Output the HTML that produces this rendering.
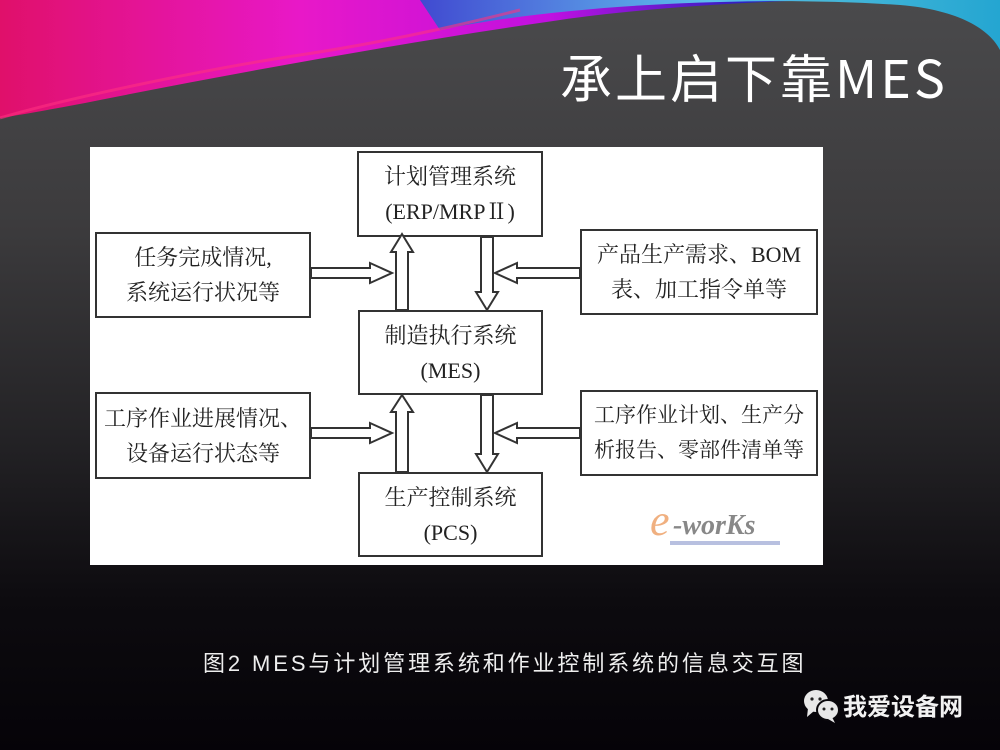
<!DOCTYPE html>
<html><head><meta charset="utf-8"><style>
html,body{margin:0;padding:0;}
body{width:1000px;height:750px;overflow:hidden;position:relative;font-family:"Liberation Sans","Noto Sans CJK SC",sans-serif;
background:linear-gradient(180deg,#4a4a4c 0%,#3c3b3d 30%,#222124 60%,#0d0b0f 80%,#050308 100%);}
.abs{position:absolute;}
.title{left:560px;top:44px;font-size:52px;color:#fff;font-family:"Noto Sans CJK SC",sans-serif;letter-spacing:3px;line-height:64px;white-space:nowrap;}
.panel{left:90px;top:147px;width:733px;height:418px;background:#fff;}
.box{position:absolute;border:2px solid #333;background:#fff;color:#222;font-family:"Liberation Serif","Noto Serif CJK SC",serif;font-size:22px;line-height:35px;text-align:center;display:flex;align-items:center;justify-content:center;box-sizing:border-box;white-space:nowrap;}
.cap{left:203px;top:646px;color:#eee;font-size:22px;letter-spacing:2.9px;white-space:nowrap;}
.wx{left:843px;top:687px;color:#f2f2f2;font-size:24px;font-weight:bold;white-space:nowrap;font-family:"Noto Sans CJK SC",sans-serif;}
</style></head><body>
<svg class="abs" style="left:0;top:0" width="1000" height="130">
<defs>
<linearGradient id="g1" x1="0" y1="0" x2="1" y2="0">
<stop offset="0" stop-color="#e0106a"/><stop offset="0.3" stop-color="#e818c8"/><stop offset="0.55" stop-color="#c010e0"/><stop offset="0.75" stop-color="#2a20c0"/><stop offset="1" stop-color="#101080"/></linearGradient>
<linearGradient id="g2" x1="0" y1="0" x2="1" y2="0">
<stop offset="0" stop-color="#3050d0"/><stop offset="0.5" stop-color="#60d0f0"/><stop offset="1" stop-color="#20b0e0"/></linearGradient>
</defs>
<path d="M0,0 H1000 V0 C900,-5 700,0 560,20 C420,40 250,70 100,100 C60,108 20,115 0,118 Z" fill="url(#g1)"/>
<path d="M440,30 C560,5 750,-5 900,5 C960,10 990,30 1000,50 V0 H420 Z" fill="url(#g2)" opacity="0.9"/>
<path d="M0,118 C60,100 200,70 300,55 C400,40 480,20 520,10" stroke="#ff3080" stroke-width="3" fill="none" opacity="0.6"/>
</svg>
<div class="abs title">承上启下靠MES</div>
<div class="abs panel">
<div class="box" style="left:267px;top:4px;width:186px;height:86px;">计划管理系统<br>(ERP/MRPⅡ)</div>
<div class="box" style="left:5px;top:85px;width:216px;height:86px;">任务完成情况,<br>系统运行状况等</div>
<div class="box" style="left:490px;top:82px;width:238px;height:86px;">产品生产需求、BOM<br>表、加工指令单等</div>
<div class="box" style="left:268px;top:163px;width:185px;height:85px;">制造执行系统<br>(MES)</div>
<div class="box" style="left:5px;top:245px;width:216px;height:87px;">工序作业进展情况、<br>设备运行状态等</div>
<div class="box" style="left:490px;top:243px;width:238px;height:86px;font-size:21px;">工序作业计划、生产分<br>析报告、零部件清单等</div>
<div class="box" style="left:268px;top:325px;width:185px;height:85px;">生产控制系统<br>(PCS)</div>
<svg class="abs" style="left:0;top:0" width="733" height="418">
<g fill="#fff" stroke="#333" stroke-width="2" stroke-linejoin="miter">
<path d="M306,163 V105 H301 L312,87 L323,105 H318 V163 Z"/>
<path d="M391,90 V145 H386 L397,163 L408,145 H403 V90 Z"/>
<path d="M221,121 H280 V116 L302,126 L280,136 V131 H221 Z"/>
<path d="M490,121 H427 V116 L405,126 L427,136 V131 H490 Z"/>
<path d="M306,325 V265 H301 L312,248 L323,265 H318 V325 Z"/>
<path d="M391,248 V307 H386 L397,325 L408,307 H403 V248 Z"/>
<path d="M221,281 H280 V276 L302,286 L280,296 V291 H221 Z"/>
<path d="M490,281 H427 V276 L405,286 L427,296 V291 H490 Z"/>
</g>
<text x="560" y="388" font-family="Liberation Serif,serif" font-size="44" font-style="italic" fill="#f0b080">e</text>
<text x="583" y="387" font-family="Liberation Serif,serif" font-size="28" font-style="italic" font-weight="bold" fill="#888">-worKs</text>
<rect x="580" y="394" width="110" height="4" fill="#b8c0e0"/>
</svg>
</div>
<div class="abs cap">图2 MES与计划管理系统和作业控制系统的信息交互图</div>
<svg class="abs" style="left:802px;top:688px" width="40" height="36">
<ellipse cx="14" cy="13" rx="12" ry="11" fill="#e8e8e8"/>
<path d="M6,20 L5,29 L12,23 Z" fill="#e8e8e8"/>
<ellipse cx="26" cy="22" rx="11" ry="10" fill="#e8e8e8" stroke="#0a080c" stroke-width="2"/>
<path d="M30,29 L33,35 L26,31 Z" fill="#e8e8e8"/>
<circle cx="10" cy="11" r="1.6" fill="#222"/><circle cx="18" cy="11" r="1.6" fill="#222"/>
<circle cx="22" cy="21" r="1.5" fill="#222"/><circle cx="30" cy="21" r="1.5" fill="#222"/>
</svg>
<div class="abs wx">我爱设备网</div>
</body></html>
